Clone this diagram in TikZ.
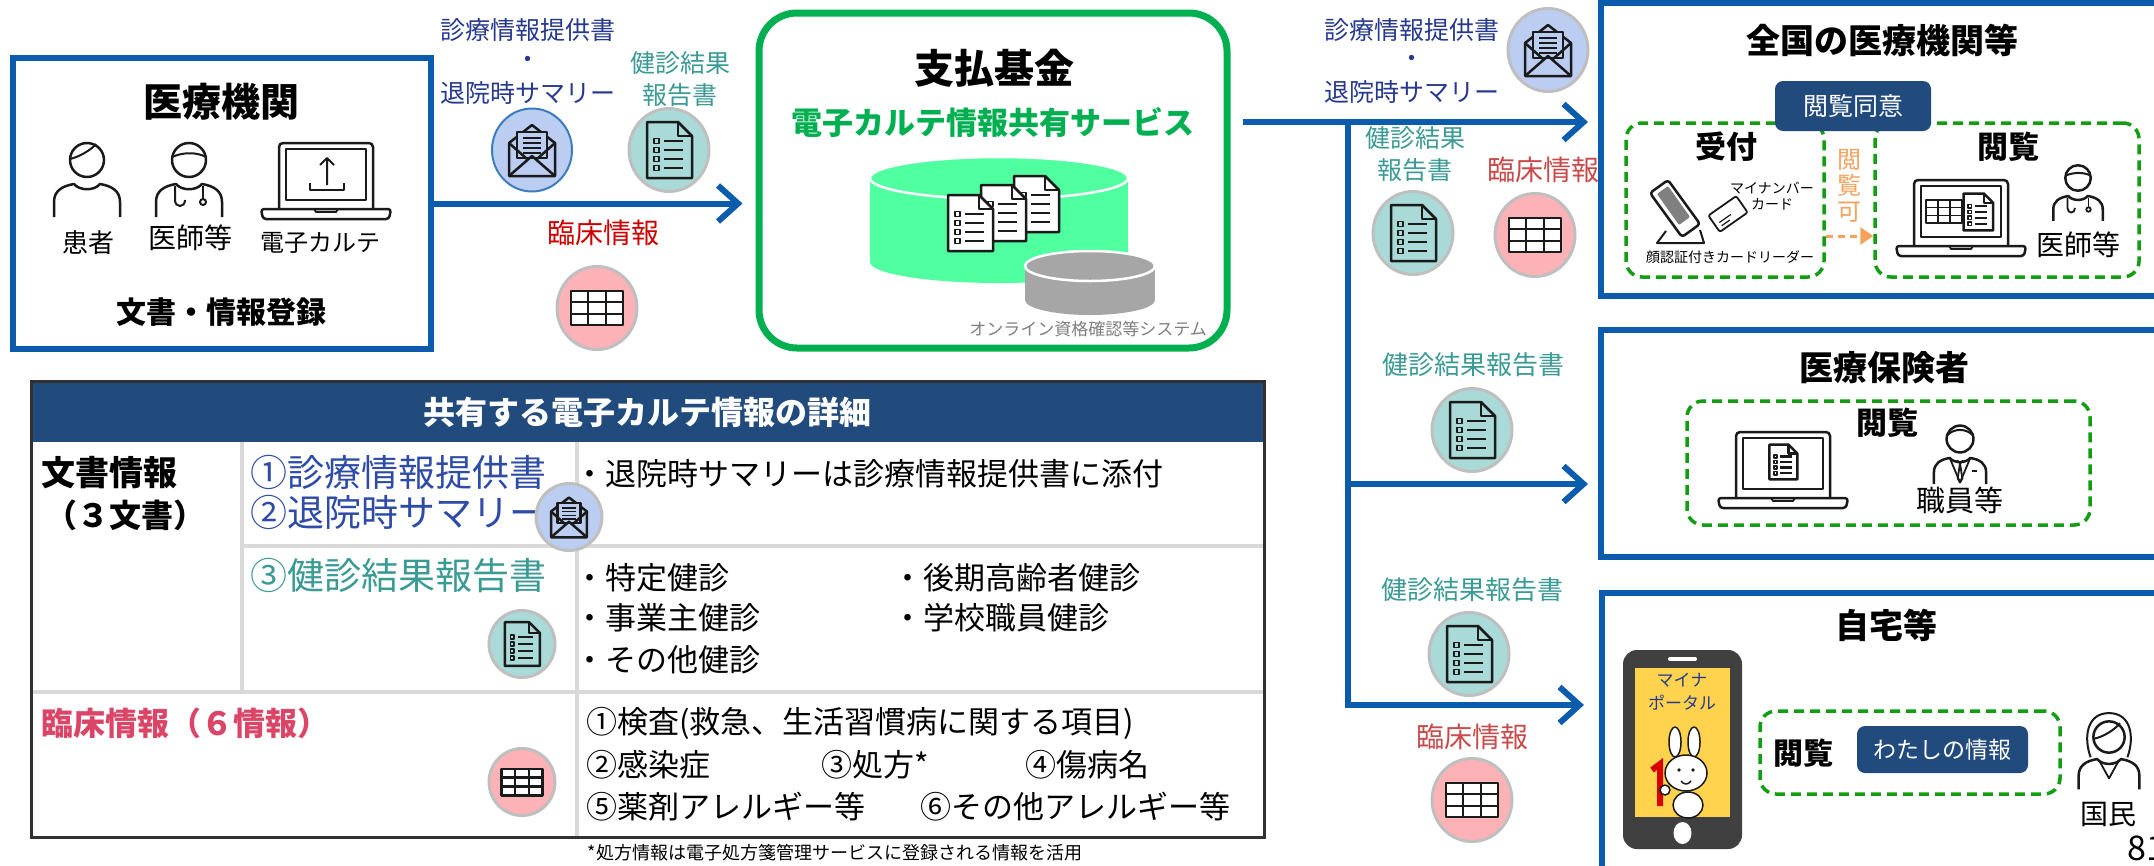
\documentclass[tikz,border=0pt]{standalone}
\usepackage{fontspec}
\setmainfont{Noto Sans CJK JP}
\usepackage{tikz}
\usetikzlibrary{arrows.meta,positioning,shapes.geometric,calc}
\definecolor{mblue}{HTML}{0B5CAD}
\definecolor{kgreen}{HTML}{00B050}
\definecolor{dgreen}{HTML}{129E12}
\definecolor{navy}{HTML}{214A7D}
\definecolor{navytxt}{HTML}{26398C}
\definecolor{bluetxt}{HTML}{2E4CA6}
\definecolor{tealtxt}{HTML}{3A9A94}
\definecolor{redtxt}{HTML}{CC0000}
\definecolor{redlt}{HTML}{C94A4A}
\definecolor{pinktxt}{HTML}{DB4567}
\definecolor{orng}{HTML}{F5A25D}
\definecolor{envfill}{HTML}{BCCDF2}
\definecolor{docfill}{HTML}{A9DAD8}
\definecolor{gridfill}{HTML}{FCB2B6}
\definecolor{ringgray}{HTML}{BFBFBF}
\definecolor{cylgreen}{HTML}{50FFA0}
\definecolor{cylgray}{HTML}{A6A6A6}
\definecolor{phonedk}{HTML}{404040}
\definecolor{phonescr}{HTML}{FFD34E}
\definecolor{rulegray}{HTML}{D9D9D9}
\definecolor{inkdk}{HTML}{1A1A1A}
\definecolor{sysgray}{HTML}{7F7F7F}
\newcommand{\pxsize}[1]{\fontsize{#1pt}{#1pt}\selectfont}
\tikzset{
  lbl/.style      = {inner sep=0pt, font=\pxsize{25}},
  ttl/.style      = {inner sep=0pt, font=\pxsize{34}\bfseries},
  bluebox/.style  = {draw=mblue, line width=6pt, fill=white, inner sep=0pt},
  kikinbox/.style = {draw=kgreen, line width=7pt, rounded corners=38pt,
                     fill=white, inner sep=0pt},
  viewbox/.style  = {draw=dgreen, line width=3.5pt, dash pattern=on 10pt off 6pt,
                     rounded corners=16pt, inner sep=0pt},
  navybox/.style  = {fill=navy, rounded corners=8pt, text=white, inner sep=0pt},
  flow/.style     = {draw=mblue, line width=6pt,
                     -{Straight Barb[length=20pt, width=36pt]}},
  okarrow/.style  = {draw=orng, line width=3pt, dash pattern=on 7pt off 5pt,
                     -{Triangle[length=13pt, width=17pt]}},
  ring/.style     = {ellipse, draw=ringgray, line width=3pt, minimum width=80pt,
                     minimum height=83pt, inner sep=0pt},
  ringsm/.style   = {ring, minimum width=66pt, minimum height=67pt},
  envring/.style  = {fill=envfill},
  docring/.style  = {fill=docfill},
  gridring/.style = {fill=gridfill},
  icon/.style     = {draw=inkdk, line width=2.5pt, line join=round},
  rule/.style     = {draw=rulegray, line width=4pt},
  tcell/.style    = {inner sep=0pt, anchor=west, font=\pxsize{31}},
}
\newcommand{\docicon}[4]{% #1 = x, #2 = y, #3 = scale, #4 = page fill
  \begin{scope}[shift={(#1,#2)}, scale=#3]
    \draw[icon, fill=#4] (-22,-28) -- (9,-28) -- (23,-14) -- (23,28) -- (-22,28) -- cycle;
    \draw[icon] (9,-28) -- (9,-14) -- (23,-14);
    \foreach \yy in {-9,0,9,18} {
      \draw[icon, line width=1.6pt] (-15,\yy-2.5) rectangle (-10,\yy+2.5);
      \draw[icon] (-5,\yy) -- (14,\yy);
    }
  \end{scope}}
\newcommand{\envicon}[3]{% #1 = x, #2 = y, #3 = scale
  \begin{scope}[shift={(#1,#2)}, scale=#3]
    \draw[icon] (-23,-7) -- (0,-25) -- (23,-7) -- (23,26) -- (-23,26) -- cycle;
    \draw[icon, fill=envfill] (-15,-18) rectangle (15,8);
    \foreach \yy in {-12,-7,-2,3} \draw[icon, line width=1.8pt] (-9,\yy) -- (9,\yy);
    \draw[icon] (-23,26) -- (0,6) -- (23,26);
    \draw[icon] (-23,-7) -- (-5,9) (23,-7) -- (5,9);
  \end{scope}}
\newcommand{\gridicon}[3]{% #1 = x, #2 = y, #3 = scale
  \begin{scope}[shift={(#1,#2)}, scale=#3]
    \draw[icon, fill=white] (-26,-17) rectangle (26,17);
    \draw[icon] (-9,-17) -- (-9,17) (9,-17) -- (9,17) (-26,-6) -- (26,-6) (-26,6) -- (26,6);
  \end{scope}}
\newcommand{\laptop}[3]{% #1 = x, #2 = y (screen centre), #3 = scale
  \begin{scope}[shift={(#1,#2)}, scale=#3]
    \draw[icon, rounded corners=4pt] (-47,35) -- (-47,-31) -- (47,-31) -- (47,35);
    \draw[icon] (-40,-25) rectangle (40,26);
    \draw[icon, rounded corners=3pt] (-65,35) -- (65,35) -- (63,45) -- (-63,45) -- cycle;
    \draw[icon, line width=1.8pt] (-12,35) -- (-10,38) -- (10,38) -- (12,35);
  \end{scope}}
\newcommand{\figicon}[4]{% #1 = x, #2 = y (head centre), #3 = scale, #4 = extra strokes
  \begin{scope}[shift={(#1,#2)}, scale=#3]
    \draw[icon, fill=white] (-33,57) -- (-33,42) .. controls (-33,31) and (-25,26) .. (-13,24)
      .. controls (-7,31) and (7,31) .. (13,24) .. controls (25,26) and (33,31) .. (33,42) -- (33,57);
    \draw[icon, fill=white] (0,0) circle[radius=17];
    #4
  \end{scope}}

\begin{document}
\begin{tikzpicture}[x=1pt, y=-1pt]
  \useasboundingbox (0,0) rectangle (2154,865);
  \clip (0,0) rectangle (2154,865);

  % frames
  \node[bluebox, minimum width=418pt, minimum height=291pt] (iryo) at (222,203.5) {};
  \node[kikinbox, minimum width=468pt, minimum height=335pt] (kikin) at (993,180.5) {};
  \node[bluebox, minimum width=649pt, minimum height=293pt] (zenkoku) at (1925.5,149.5) {};
  \node[bluebox, minimum width=649pt, minimum height=227pt] (hoken) at (1925.5,443.5) {};
  \node[bluebox, minimum width=648pt, minimum height=357pt] (jitaku) at (1926,771.5) {};

  % flows
  \coordinate (split) at (1348,122);
  \coordinate (fork2) at (1348,484);
  \coordinate (fork3) at (1348,705);
  \draw[flow, shorten >=13pt] (iryo.east) -- (iryo.east -| kikin.west);
  \draw[flow, shorten <=12pt, shorten >=10pt] (kikin.east |- split) -- (zenkoku.west |- split);
  \draw[flow, shorten >=10pt] (fork2) -- (hoken.west |- fork2);
  \draw[flow, shorten >=15pt] (split) -- (fork3) -- (jitaku.west |- fork3);

  % 医療機関
  \node[inner sep=0pt, font=\pxsize{39}\bfseries] (iryottl) at (221,102) {医療機関};
  \figicon{87}{160}{1}{\draw[icon, line width=2pt] (-17,-1) .. controls (-8,-3) and (4,-10) .. (9,-16);}
  \figicon{189}{160}{1}{\draw[icon, line width=2pt] (-17,-3) .. controls (-6,-8) and (8,-8) .. (17,-3);
    \draw[icon, line width=2pt] (-14,26) -- (-14,40) .. controls (-14,48) and (-4,48) .. (-4,40);
    \draw[icon, line width=2pt] (14,26) -- (14,38);
    \draw[icon, line width=2pt] (14,42) circle[radius=3];}
  \laptop{326}{174}{1}
  \draw[icon, line width=2pt] (310,183) -- (310,190) -- (344,190) -- (344,183);
  \draw[icon, line width=2pt] (327,185) -- (327,158) (320,165) -- (327,158) -- (334,165);
  \node[lbl, font=\pxsize{26}] (kanja) at (88,243) {患者};
  \node[lbl, font=\pxsize{28}] (ishi) at (190,238) {医師等};
  \node[lbl, font=\pxsize{24}] (karte) at (320,243) {電子カルテ};
  \node[inner sep=0pt, font=\pxsize{30}\bfseries] (touroku) at (221,312) {文書・情報登録};

  % items sent to 支払基金
  \node[lbl, text=navytxt] (shin1) at (528,30) {診療情報提供書};
  \node[lbl, text=navytxt] (dot1) at (528,62) {・};
  \node[lbl, text=navytxt] (tai1) at (528,93) {退院時サマリー};
  \node[lbl, text=tealtxt] (ken1) at (680,63) {健診結果};
  \node[lbl, text=tealtxt] (hou1) at (680,95) {報告書};
  \node[ring, envring, draw=mblue!80, line width=2pt] (env1) at (532,150) {};
  \envicon{532}{150}{1}
  \node[ring, docring] (doc1) at (669,150) {};
  \docicon{669}{150}{1}{docfill}
  \node[lbl, font=\pxsize{28}, text=redtxt] (rin1) at (603,233) {臨床情報};
  \node[ring, gridring] (grid1) at (597,308) {};
  \gridicon{597}{308}{1}

  % 支払基金
  \node[inner sep=0pt, font=\pxsize{40}\bfseries] (kikinttl) at (994,68) {支払基金};
  \node[inner sep=0pt, font=\pxsize{31}\bfseries, text=kgreen] (service) at (993,122) {電子カルテ情報共有サービス};
  \fill[cylgreen] (870,178) rectangle (1128,262);
  \fill[cylgreen] (999,262) ellipse[x radius=129, y radius=21];
  \filldraw[fill=cylgreen, draw=white, line width=2.5pt] (999,178) ellipse[x radius=129, y radius=21];
  \docicon{1036}{204}{1}{white}
  \docicon{1003}{213}{1}{white}
  \docicon{970}{223}{1}{white}
  \fill[cylgray] (1025,266) rectangle (1155,300);
  \fill[cylgray] (1090,300) ellipse[x radius=65, y radius=15];
  \filldraw[fill=cylgray, draw=white, line width=2.5pt] (1090,266) ellipse[x radius=65, y radius=15];
  \node[inner sep=0pt, font=\pxsize{17}, text=sysgray] (oqs) at (1088,329) {オンライン資格確認等システム};

  % items sent onward
  \node[lbl, text=navytxt] (shin2) at (1412,30) {診療情報提供書};
  \node[lbl, text=navytxt] (dot2) at (1412,61) {・};
  \node[lbl, text=navytxt] (tai2) at (1412,92) {退院時サマリー};
  \node[ring, envring] (env2) at (1548,50) {};
  \envicon{1548}{50}{1}
  \node[lbl, text=tealtxt] (ken2) at (1415,138) {健診結果};
  \node[lbl, text=tealtxt] (hou2) at (1415,170) {報告書};
  \node[lbl, font=\pxsize{28}, text=redlt] (rin2) at (1543,170) {臨床情報};
  \node[ring, docring] (doc2) at (1413,233) {};
  \docicon{1413}{233}{1}{docfill}
  \node[ring, gridring] (grid2) at (1535,235) {};
  \gridicon{1535}{235}{1}
  \node[lbl, font=\pxsize{26}, text=tealtxt] (ken3) at (1473,365) {健診結果報告書};
  \node[ring, docring] (doc3) at (1472,430) {};
  \docicon{1472}{430}{1}{docfill}
  \node[lbl, font=\pxsize{26}, text=tealtxt] (ken4) at (1472,590) {健診結果報告書};
  \node[ring, docring] (doc4) at (1469,654) {};
  \docicon{1469}{654}{1}{docfill}
  \node[lbl, font=\pxsize{28}, text=redlt] (rin4) at (1472,737) {臨床情報};
  \node[ring, gridring] (grid4) at (1472,800) {};
  \gridicon{1472}{800}{1}

  % 全国の医療機関等
  \node[ttl] (zenttl) at (1882,40) {全国の医療機関等};
  \node[viewbox, minimum width=198pt, minimum height=154pt] (uketsuke) at (1725,200) {};
  \node[viewbox, minimum width=264pt, minimum height=154pt] (etsu1) at (2007,200) {};
  \node[navybox, minimum width=156pt, minimum height=50pt, font=\pxsize{25}] (doui) at (1853,106) {閲覧同意};
  \node[inner sep=0pt, font=\pxsize{31}\bfseries] (uketxt) at (1726,147) {受付};
  \node[inner sep=0pt, font=\pxsize{31}\bfseries] (etsutxt1) at (2008,147) {閲覧};
  \draw[icon, rounded corners=3pt] (1650,193) -- (1668,180) -- (1700,224) -- (1682,237) -- cycle;
  \fill[gray, rounded corners=1pt] (1657,194) -- (1668,186) -- (1690,217) -- (1679,225) -- cycle;
  \draw[icon, line width=2pt] (1666,231) -- (1657,243) -- (1704,243) -- (1700,230);
  \draw[icon, line width=1.8pt, rounded corners=2pt, rotate around={35:(1728,214)}] (1711,204) rectangle (1745,224);
  \draw[icon, line width=1.2pt, rotate around={35:(1728,214)}] (1716,216) -- (1730,216) (1716,220) -- (1726,220);
  \node[inner sep=0pt, font=\fontsize{14pt}{16pt}\selectfont, align=center] (mncard) at (1772,196) {マイナンバー\\カード};
  \node[inner sep=0pt, font=\pxsize{14}] (reader) at (1730,257) {顔認証付きカードリーダー};
  \node[inner sep=0pt, font=\fontsize{24pt}{26pt}\selectfont, text=orng, align=center] (kaka) at (1849,186) {閲\\覧\\可};
  \coordinate (okrow) at (1850,236);
  \draw[okarrow] (uketsuke.east |- okrow) -- (etsu1.west |- okrow);
  \laptop{1961}{211}{1}
  \draw[icon, line width=1.6pt] (1926,200) rectangle (1962,223);
  \draw[icon, line width=1.2pt] (1938,200) -- (1938,223) (1950,200) -- (1950,223)
    (1926,207.7) -- (1962,207.7) (1926,215.3) -- (1962,215.3);
  \docicon{1978}{212}{0.66}{white}
  \figicon{2078}{178}{0.75}{\draw[icon, line width=2pt] (-17,-3) .. controls (-6,-8) and (8,-8) .. (17,-3);
    \draw[icon, line width=1.8pt] (-14,26) -- (-14,40) .. controls (-14,48) and (-4,48) .. (-4,40);
    \draw[icon, line width=1.8pt] (14,26) -- (14,38);
    \draw[icon, line width=1.8pt] (14,42) circle[radius=3];}
  \node[lbl, font=\pxsize{28}] (ishi2) at (2078,245) {医師等};

  % 医療保険者
  \node[ttl] (hokenttl) at (1884,368) {医療保険者};
  \node[viewbox, minimum width=403pt, minimum height=124pt] (etsu2) at (1888.5,463) {};
  \node[inner sep=0pt, font=\pxsize{31}\bfseries] (etsutxt2) at (1887,423) {閲覧};
  \laptop{1783}{463}{1}
  \docicon{1783}{462}{0.62}{white}
  \figicon{1960}{439}{0.79}{\draw[icon, line width=2pt] (-17,-4) .. controls (-8,-14) and (8,-14) .. (17,-4);
    \draw[icon, line width=1.8pt] (-13,24) -- (0,55) -- (13,24);
    \draw[icon, line width=1.8pt] (-4,27) -- (0,31) -- (4,27) (0,31) -- (-3,50) -- (0,55) -- (3,50) -- cycle;
    \draw[icon, line width=1.8pt] (15,40) -- (21,40);}
  \node[lbl, font=\pxsize{29}] (shokuin) at (1960,500) {職員等};

  % 自宅等
  \node[ttl] (jitakuttl) at (1886,625) {自宅等};
  \node[fill=phonedk, rounded corners=14pt, minimum width=119pt, minimum height=199pt, inner sep=0pt] (phone) at (1682.5,749.5) {};
  \node[fill=phonescr, minimum width=95pt, minimum height=149pt, inner sep=0pt] (scr) at (1682.5,742.5) {};
  \draw[white, line width=4pt, line cap=round] (1670,659) -- (1695,659);
  \fill[white] (1682.5,833) ellipse[x radius=9, y radius=11];
  \node[inner sep=0pt, font=\fontsize{17pt}{23pt}\selectfont, text=navytxt, align=center] (portal) at (1682,691.5) {マイナ\\ポータル};
  \draw[icon, line width=1.5pt, fill=white] (1675,742) ellipse[x radius=6, y radius=15];
  \draw[icon, line width=1.5pt, fill=white] (1694,742) ellipse[x radius=6, y radius=15];
  \draw[icon, line width=1.5pt, fill=white] (1688,805) ellipse[x radius=15, y radius=13];
  \draw[icon, line width=1.5pt, fill=white] (1686,773) ellipse[x radius=21, y radius=18];
  \draw[red!85!black, line width=6pt] (1652,770) -- (1660,764) -- (1660,806);
  \draw[icon, line width=1.5pt, fill=white] (1665,790) circle[radius=5];
  \fill[inkdk] (1679,770) circle[radius=1.8] (1693,770) circle[radius=1.8];
  \draw[icon, line width=1.5pt] (1681,781) .. controls (1684,785) and (1688,785) .. (1691,781);
  \node[viewbox, minimum width=300pt, minimum height=83pt] (etsu3) at (1910,752.5) {};
  \node[inner sep=0pt, font=\pxsize{30}\bfseries] (etsutxt3) at (1803,753) {閲覧};
  \node[navybox, minimum width=171pt, minimum height=47pt, font=\pxsize{23}] (watashi) at (1942.5,749.5) {わたしの情報};
  \figicon{2109}{737}{0.92}{\draw[icon, line width=2pt] (-20,22) .. controls (-28,0) and (-24,-26) .. (0,-26)
      .. controls (24,-26) and (28,0) .. (20,22);
    \draw[icon, line width=2pt] (-17,2) .. controls (-6,0) and (6,-8) .. (12,-15);
    \draw[icon, line width=1.8pt] (-11,25) -- (0,45) -- (11,25);}
  \node[lbl, font=\pxsize{28}] (kokumin) at (2108,814) {国民};
  \node[inner sep=0pt, anchor=west, font=\pxsize{34}] (pgno) at (2127,848) {81};

  % table of shared records
  \fill[navy] (31,381) rectangle (1264,442);
  \node[inner sep=0pt, font=\pxsize{32}\bfseries, text=white] (tbhead) at (647,412) {共有する電子カルテ情報の詳細};
  \draw[rule] (242,442) -- (242,692);
  \draw[rule] (577,442) -- (577,837);
  \draw[rule] (242,546) -- (1264,546);
  \draw[rule] (31,692) -- (1264,692);
  \draw[draw=inkdk!90, line width=3pt] (31,381) rectangle (1264,837);
  \node[tcell, font=\pxsize{34}\bfseries] (tdoc) at (41,473) {文書情報};
  \node[inner sep=0pt, font=\pxsize{32}\bfseries] (tdocn) at (125,515) {（３文書）};
  \node[tcell, font=\pxsize{37}, text=bluetxt] (tshin) at (250,472) {①診療情報提供書};
  \node[tcell, font=\pxsize{37}, text=bluetxt] (ttai) at (250,512) {②退院時サマリー};
  \node[tcell, font=\pxsize{37}, text=tealtxt] (tken) at (250,575) {③健診結果報告書};
  \node[ringsm, envring] (tenv) at (569,517) {};
  \envicon{569}{517}{0.78}
  \node[ringsm, docring] (tdocr) at (522,644) {};
  \docicon{522}{644}{0.78}{docfill}
  \node[ringsm, gridring] (tgrid) at (522,782) {};
  \gridicon{522}{782}{0.78}
  \node[tcell] (tattach) at (574,474) {・退院時サマリーは診療情報提供書に添付};
  \node[tcell] (tk1) at (574,578) {・特定健診};
  \node[tcell] (tk2) at (892,578) {・後期高齢者健診};
  \node[tcell] (tk3) at (574,618) {・事業主健診};
  \node[tcell] (tk4) at (892,618) {・学校職員健診};
  \node[tcell] (tk5) at (574,660) {・その他健診};
  \node[tcell, font=\pxsize{32}\bfseries, text=pinktxt] (tclin) at (41,723) {臨床情報（６情報）};
  \node[tcell] (tc1) at (586,723) {①検査(救急、生活習慣病に関する項目)};
  \node[tcell] (tc2) at (586,765) {②感染症};
  \node[tcell] (tc3) at (821,765) {③処方*};
  \node[tcell] (tc4) at (1025,765) {④傷病名};
  \node[tcell] (tc5) at (586,807) {⑤薬剤アレルギー等};
  \node[tcell] (tc6) at (920,807) {⑥その他アレルギー等};
  \node[inner sep=0pt, font=\pxsize{18}] (tnote) at (835,853) {*処方情報は電子処方箋管理サービスに登録される情報を活用};
\end{tikzpicture}
\end{document}
